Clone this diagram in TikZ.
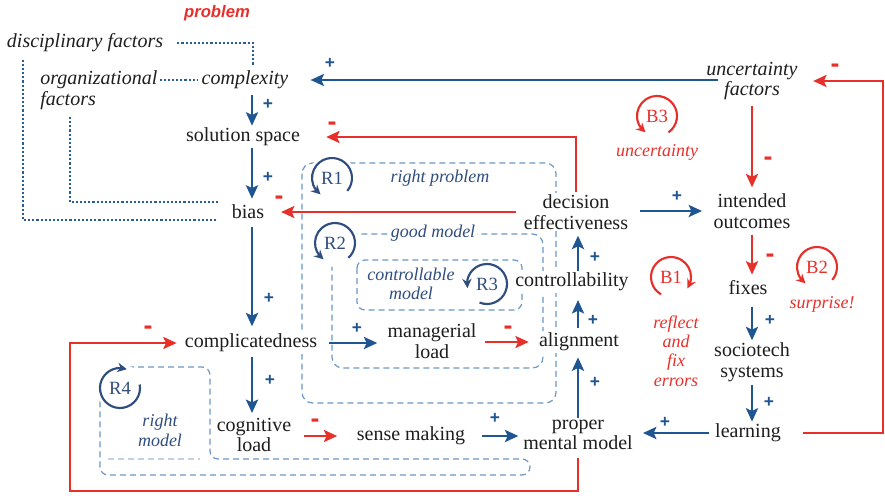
\documentclass[tikz,border=0pt]{standalone}
\usepackage{fontspec}
\setmainfont{Liberation Serif}
\newfontfamily\labelsans{Liberation Sans}
\usetikzlibrary{arrows.meta,bending}
\definecolor{cblue}{HTML}{1F5590}
\definecolor{cred}{HTML}{E8302A}
\definecolor{cdash}{HTML}{6C96C6}
\definecolor{cfaint}{HTML}{C2D2E4}
\definecolor{cloop}{HTML}{2F4D7E}
\definecolor{cdot}{HTML}{2A5C96}
\definecolor{ctext}{HTML}{1E1E1E}

\begin{document}
\begin{tikzpicture}[x=0.75pt,y=-0.75pt,
  var/.style={text=ctext, fill=white, font=\fontsize{15}{15.5}\selectfont, align=center, inner sep=1.5pt},
  ivar/.style={var, font=\fontsize{15}{15.5}\selectfont\itshape},
  barrow/.style={draw=cblue, line width=2pt, -{Stealth[length=10pt,width=9pt,inset=2pt]}},
  rarrow/.style={draw=cred, line width=1.8pt, -{Stealth[length=10pt,width=9pt,inset=2pt]}},
  dotline/.style={draw=cdot, line width=1.6pt, dash pattern=on 1.6pt off 1.5pt},
  loopbox/.style={draw=cdash, line width=0.9pt, dash pattern=on 4.5pt off 3pt, rounded corners=8pt},
  faintline/.style={draw=cfaint, line width=0.9pt, dash pattern=on 4.5pt off 3pt},
  plus/.style={text=cblue, font=\labelsans\bfseries\fontsize{13}{13}\selectfont, inner sep=0pt},
  minus/.style={text=cred, font=\labelsans\bfseries\fontsize{20}{20}\selectfont, inner sep=0pt},
  looptext/.style={text=cloop, font=\fontsize{13.5}{14}\selectfont\itshape, align=center, inner sep=1pt},
  redtext/.style={text=cred, font=\fontsize{13.5}{14.5}\selectfont\itshape, align=center, inner sep=1pt},
  loopsym/.style={circle, fill=white, inner sep=0pt, minimum size=36pt, font=\fontsize{14}{14}\selectfont},
  looparc/.style={line width=1.6pt, -{Stealth[length=7pt,width=7pt]}},
]
\path[use as bounding box] (0,0) rectangle (885,496);

% helper coordinates for columns and bends
\coordinate (colA) at (252,0);
\coordinate (colB) at (578,0);
\coordinate (colC) at (752,0);
\coordinate (rightC) at (883,0);
\coordinate (bottomL) at (70,491);
\coordinate (dotA) at (253,65);
\coordinate (dotB) at (23,0);
\coordinate (dotC) at (70,0);

% loop boundaries
\draw[loopbox] (302,163) rectangle (556,403);
\draw[loopbox] (332,234) rectangle (543,368);
\draw[loopbox, rounded corners=6pt] (357,260) rectangle (522,310);
\draw[loopbox, rounded corners=6pt] (128,367) -- (210,367) -- (210,459) -- (530,459) -- (530,475) -- (100,475) -- (100,400);
\draw[faintline] (108,459) -- (200,459);

% loop markers
\node[loopsym, text=cloop] (R1) at (332,178) {R1};
\draw[looparc, cloop] ([shift={(-40:15pt)}]R1.center) arc[start angle=-40, end angle=235, radius=15pt];
\node[loopsym, text=cloop] (R2) at (335,243) {R2};
\draw[looparc, cloop] ([shift={(-48:15pt)}]R2.center) arc[start angle=-48, end angle=235, radius=15pt];
\node[loopsym, text=cloop, minimum size=31pt] (R3) at (487,284) {R3};
\draw[looparc, cloop] ([shift={(-112:15pt)}]R3.center) arc[start angle=-112, end angle=192, radius=15pt];
\node[loopsym, text=cloop] (R4) at (120,388) {R4};
\draw[looparc, cloop] ([shift={(10:15pt)}]R4.center) arc[start angle=10, end angle=-290, radius=15pt];
\node[loopsym, text=cred] (B3) at (657,116) {B3};
\draw[looparc, cred] ([shift={(-55:15pt)}]B3.center) arc[start angle=-55, end angle=235, radius=15pt];
\node[loopsym, text=cred] (B1) at (671,277) {B1};
\draw[looparc, cred] ([shift={(240:15pt)}]B1.center) arc[start angle=240, end angle=-35, radius=15pt];
\node[loopsym, text=cred] (B2) at (817,267) {B2};
\draw[looparc, cred] ([shift={(-40:15pt)}]B2.center) arc[start angle=-40, end angle=235, radius=15pt];

% loop names
\node[looptext] (tR1) at (440,178) {right problem};
\node[looptext, fill=white] (tR2) at (433,233) {good model};
\node[looptext] (tR3) at (411,284) {controllable\\model};
\node[looptext, font=\fontsize{13.5}{15}\selectfont\itshape] (tR4) at (160,430) {right\\model};
\node[redtext] (tB3) at (657,152) {uncertainty};
\node[redtext] (tB1) at (676,351) {reflect\\and\\fix\\errors};
\node[redtext] (tB2) at (822,304) {surprise!};
\node[text=cred, font=\labelsans\bfseries\itshape\fontsize{12.5}{12.5}\selectfont, inner sep=0pt] (tprob) at (217,13) {problem};

% variables
\node[ivar, fill=none] (disc) at (85,43) {disciplinary factors};
\node[ivar, fill=none, align=left, anchor=west] (org) at (38,90) {organizational\\factors};
\node[ivar] (complexity) at (245,80) {complexity};
\node[ivar] (uncert) at (752,81) {uncertainty\\factors};
\node[var] (solution) at (243,137) {solution space};
\node[var] (bias) at (248,212) {bias};
\node[var] (complicated) at (251,343) {complicatedness};
\node[var] (cognitive) at (254,435) {cognitive\\load};
\node[var] (sense) at (411,436) {sense making};
\node[var] (proper) at (578,435) {proper\\mental model};
\node[var] (managerial) at (432,341) {managerial\\load};
\node[var] (alignment) at (579,342) {alignment};
\node[var] (control) at (572,282) {controllability};
\node[var] (decision) at (576,212) {decision\\effectiveness};
\node[var] (intended) at (752,211) {intended\\outcomes};
\node[var] (fixes) at (748,288) {fixes};
\node[var] (sociotech) at (752,362) {sociotech\\systems};
\node[var] (learning) at (748,433) {learning};

% dotted influences of the problem factors
\draw[dotline, shorten <=9pt] (disc.east) -| (dotA);
\draw[dotline, shorten >=1pt] (org.east |- complexity.west) -- (complexity.west);
\draw[dotline, shorten <=4pt, shorten >=9pt] (disc.south -| dotB) |- ([yshift=-6pt]bias.west);
\draw[dotline, shorten <=4pt, shorten >=9pt] (org.south -| dotC) |- ([yshift=7.5pt]bias.west);

% causal links
\draw[barrow, shorten <=-10pt, shorten >=15pt] (uncert.west |- complexity.east) -- (complexity.east);
\draw[barrow, shorten <=3pt] (complexity.south -| colA) -- (solution.north -| colA);
\draw[rarrow, shorten >=18pt] (decision.north) |- (solution.east);
\draw[barrow, shorten >=3pt] (solution.south -| colA) -- (bias.north -| colA);
\draw[rarrow, shorten <=4pt, shorten >=11pt] (decision.west |- bias.east) -- (bias.east);
\draw[barrow, shorten <=4pt, shorten >=4pt] (bias.south -| colA) -- (complicated.north -| colA);
\draw[barrow, shorten <=7pt, shorten >=6pt] (complicated.east) -- (managerial.west |- complicated.east);
\draw[rarrow, shorten <=4.5pt, shorten >=6pt] (managerial.east |- alignment.west) -- (alignment.west);
\draw[barrow, shorten <=2pt, shorten >=2pt] (complicated.south -| colA) -- (cognitive.north -| colA);
\draw[rarrow, shorten <=8pt, shorten >=13pt] (cognitive.east |- sense.west) -- (sense.west);
\draw[barrow, shorten <=11pt, shorten >=2pt] (sense.east) -- (proper.west |- sense.east);
\draw[barrow, shorten >=3pt] (proper.north -| colB) -- (alignment.south -| colB);
\draw[barrow, shorten <=2pt, shorten >=5pt] (alignment.north -| colB) -- (control.south -| colB);
\draw[barrow, shorten >=3pt] (control.north -| colB) -- (decision.south -| colB);
\draw[barrow, shorten <=7pt, shorten >=7pt] (decision.east |- intended.west) -- (intended.west);
\draw[rarrow, shorten <=3pt, shorten >=3pt] (uncert.south -| colC) -- (intended.north -| colC);
\draw[rarrow, shorten <=3pt, shorten >=3pt] (intended.south -| colC) -- (fixes.north -| colC);
\draw[barrow, shorten <=7pt] (fixes.south -| colC) -- (sociotech.north -| colC);
\draw[barrow, shorten <=1pt] (sociotech.south -| colC) -- (learning.north -| colC);
\draw[barrow, shorten <=3pt, shorten >=6pt] (learning.west) -- (proper.east |- learning.west);
\draw[rarrow, shorten <=15pt, shorten >=10pt] (learning.east) -- (learning.east -| rightC) -- (rightC |- uncert.east) -- (uncert.east);
\draw[rarrow, shorten <=4pt, shorten >=4.5pt] (proper.south) -- (proper.south |- bottomL) -- (bottomL) -- (bottomL |- complicated.west) -- (complicated.west);

% polarity signs
\node[plus] (s1) at (330,63) {+};
\node[plus] (s2) at (268,104) {+};
\node[minus] (s3) at (332,126) {-};
\node[plus] (s4) at (268,177) {+};
\node[minus] (s5) at (279,200) {-};
\node[plus] (s6) at (269,298) {+};
\node[minus] (s7) at (148,330) {-};
\node[plus] (s8) at (357,328) {+};
\node[minus] (s9) at (508,330) {-};
\node[plus] (s10) at (270,380) {+};
\node[minus] (s11) at (315,423) {-};
\node[plus] (s12) at (495,418) {+};
\node[plus] (s13) at (595,382) {+};
\node[plus] (s14) at (593,320) {+};
\node[plus] (s15) at (595,257) {+};
\node[plus] (s16) at (677,196) {+};
\node[minus] (s17) at (768,161) {-};
\node[minus] (s18) at (770,258) {-};
\node[plus] (s19) at (770,320) {+};
\node[plus] (s20) at (769,402) {+};
\node[plus] (s21) at (665,422) {+};
\node[minus] (s22) at (835,68) {-};
\end{tikzpicture}
\end{document}
